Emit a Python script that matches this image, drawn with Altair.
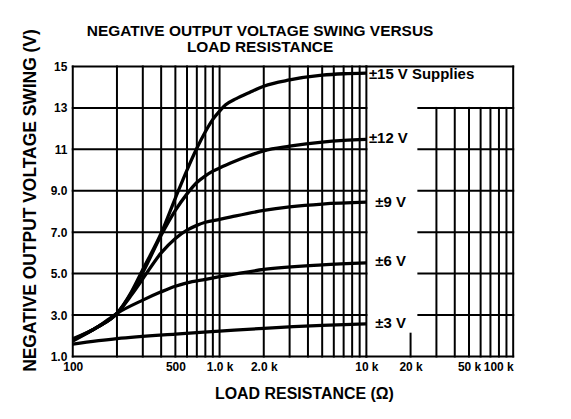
import altair as alt
import pandas as pd

# ---- curve data (load resistance in ohms, negative output swing in volts) ----
r_15 = [100, 150, 200, 250, 300, 400, 500, 600, 700, 800, 900, 1000, 1100, 1300, 1600, 2000, 3000, 5000, 7000, 10000]
v_15 = [1.8, 2.45, 3.08, 4.1, 5.2, 6.95, 8.65, 10.0, 11.05, 11.85, 12.45, 12.85, 13.15, 13.45, 13.75, 14.05, 14.35, 14.58, 14.65, 14.68]
r_12 = [100, 150, 200, 250, 300, 400, 500, 600, 700, 800, 900, 1000, 1200, 1600, 2000, 3000, 5000, 7000, 10000]
v_12 = [1.85, 2.45, 3.08, 4.05, 5.05, 6.85, 8.05, 8.85, 9.4, 9.72, 9.95, 10.1, 10.35, 10.7, 10.93, 11.15, 11.35, 11.43, 11.48]
r_9 = [100, 150, 200, 250, 300, 400, 500, 600, 700, 800, 1000, 1200, 2000, 3000, 5000, 10000]
v_9 = [1.8, 2.45, 3.08, 3.95, 4.75, 6.0, 6.7, 7.1, 7.33, 7.48, 7.62, 7.74, 8.05, 8.22, 8.36, 8.45]
r_6 = [100, 150, 200, 300, 400, 500, 600, 800, 1000, 2000, 5000, 10000]
v_6 = [1.75, 2.45, 3.08, 3.72, 4.12, 4.39, 4.55, 4.72, 4.85, 5.2, 5.42, 5.52]
r_3 = [100, 200, 500, 1000, 2000, 5000, 10000]
v_3 = [1.6, 1.86, 2.08, 2.22, 2.36, 2.5, 2.57]
series_names = ["±15", "±12", "±9", "±6", "±3"]

# ---- curve labels ----
label_text = ["±15 V Supplies", "±12 V", "±9 V", "±6 V", "±3 V"]
label_r = [10400, 10400, 11500, 11500, 11500]
label_v = [14.63, 11.56, 8.48, 5.6, 2.62]

# ---- titles ----
title_lines = ["NEGATIVE OUTPUT VOLTAGE SWING VERSUS", "LOAD RESISTANCE"]

# ---- axis ticks ----
x_tick_values = [100, 500, 1000, 2000, 10000, 20000, 50000, 100000]
x_tick_labels = ["100", "500", "1.0 k", "2.0 k", "10 k", "20 k", "50 k", "100 k"]
y_tick_values = [1, 3, 5, 7, 9, 11, 13, 15]
y_tick_labels = ["1.0", "3.0", "5.0", "7.0", "9.0", "11", "13", "15"]

# ---- grid of the printed graph paper ----
vgrid_main = [100, 200, 300, 400, 500, 600, 700, 800, 900,
              1000, 2000, 3000, 4000, 5000, 6000, 7000, 8000, 9000, 10000]
vgrid_right = [30000, 40000, 50000, 60000, 70000, 80000, 90000]
vgrid_short = [20000]
hgrid_main = [1, 3, 5, 7, 9, 11, 13, 15]
hgrid_right = [3, 5, 7, 9, 11, 13]
hgrid_right_start = 22600

segs = []
for r in vgrid_main:
    segs.append(dict(x=r, x2=r, y=1, y2=15))
for r in vgrid_right:
    segs.append(dict(x=r, x2=r, y=1, y2=13))
for r in vgrid_short:
    segs.append(dict(x=r, x2=r, y=1, y2=2.1))
segs.append(dict(x=100000, x2=100000, y=1, y2=15))
for v in hgrid_main:
    segs.append(dict(x=100, x2=10000, y=v, y2=v))
for v in hgrid_right:
    segs.append(dict(x=hgrid_right_start, x2=100000, y=v, y2=v))
segs.append(dict(x=10000, x2=100000, y=1, y2=1))
segs.append(dict(x=10000, x2=100000, y=15, y2=15))
grid_df = pd.DataFrame(segs)

rows = []
for name, rs, vs in zip(series_names, [r_15, r_12, r_9, r_6, r_3], [v_15, v_12, v_9, v_6, v_3]):
    for r, v in zip(rs, vs):
        rows.append(dict(series=name, r=r, v=v))
curve_df = pd.DataFrame(rows)
label_df = pd.DataFrame(dict(text=label_text, r=label_r, v=label_v))
title_df = pd.DataFrame(dict(text=["\n".join(title_lines)]))

BOLD = "Liberation Sans"

xscale = alt.Scale(type="log", domain=[100, 100000], nice=False)
yscale = alt.Scale(domain=[1, 15], nice=False, zero=False)

label_expr_x = " : ".join(
    [f"datum.value == {v} ? '{t}'" for v, t in zip(x_tick_values, x_tick_labels)]
) + " : ''"
label_expr_y = " : ".join(
    [f"datum.value == {v} ? '{t}'" for v, t in zip(y_tick_values, y_tick_labels)]
) + " : ''"

xaxis = alt.Axis(
    values=x_tick_values, labelExpr=label_expr_x, grid=False, domain=False, ticks=False,
    labelFont=BOLD, labelFontSize=12, labelFontWeight="bold", labelColor="black",
    labelPadding=5, labelFlush=False, labelOverlap=False,
    labelAlign=alt.ExprRef("datum.value == 100000 ? 'right' : 'center'"),
    title="LOAD RESISTANCE (Ω)", titleFont=BOLD, titleFontSize=16, titleFontWeight="bold",
    titleColor="black", titleX=232, titleY=37, titleBaseline="middle", titleAlign="center",
)
yaxis = alt.Axis(
    values=y_tick_values, labelExpr=label_expr_y, grid=False, domain=False, ticks=False,
    labelFont=BOLD, labelFontSize=12, labelFontWeight="bold", labelColor="black",
    labelPadding=6, labelFlush=False, labelOverlap=False,
    title="NEGATIVE OUTPUT VOLTAGE SWING (V)", titleFont=BOLD, titleFontSize=17.5,
    titleFontWeight="bold", titleColor="black", titleX=-42, titleY=134, titleAngle=270,
    titleBaseline="middle", titleAlign="center",
)

grid = alt.Chart(grid_df).mark_rule(color="black", strokeWidth=2, strokeCap="square").encode(
    x=alt.X("x:Q", scale=xscale, axis=xaxis),
    x2="x2:Q",
    y=alt.Y("y:Q", scale=yscale, axis=yaxis),
    y2="y2:Q",
)

curves = alt.Chart(curve_df).mark_line(color="black", strokeWidth=3.3, interpolate="monotone").encode(
    x=alt.X("r:Q", scale=xscale),
    y=alt.Y("v:Q", scale=yscale),
    detail="series:N",
)

labels = alt.Chart(label_df).mark_text(
    align="left", baseline="middle", font=BOLD, fontSize=15, fontWeight="bold", color="black"
).encode(
    x=alt.X("r:Q", scale=xscale),
    y=alt.Y("v:Q", scale=yscale),
    text="text:N",
)

title = alt.Chart(title_df).mark_text(
    align="center", baseline="middle", font=BOLD, fontSize=15.5, fontWeight="bold",
    color="black", lineBreak="\n", lineHeight=16,
).encode(
    x=alt.value(188),
    y=alt.value(-36),
    text="text:N",
)

chart = alt.layer(grid, curves, labels, title).properties(
    width=442,
    height=291,
    padding={"left": 65, "top": 58, "right": 50, "bottom": 50},
    autosize=alt.AutoSizeParams(type="none"),
    background="white",
).configure_view(stroke=None)

chart.save("out.html", embed_options={"renderer": "svg", "actions": False})
